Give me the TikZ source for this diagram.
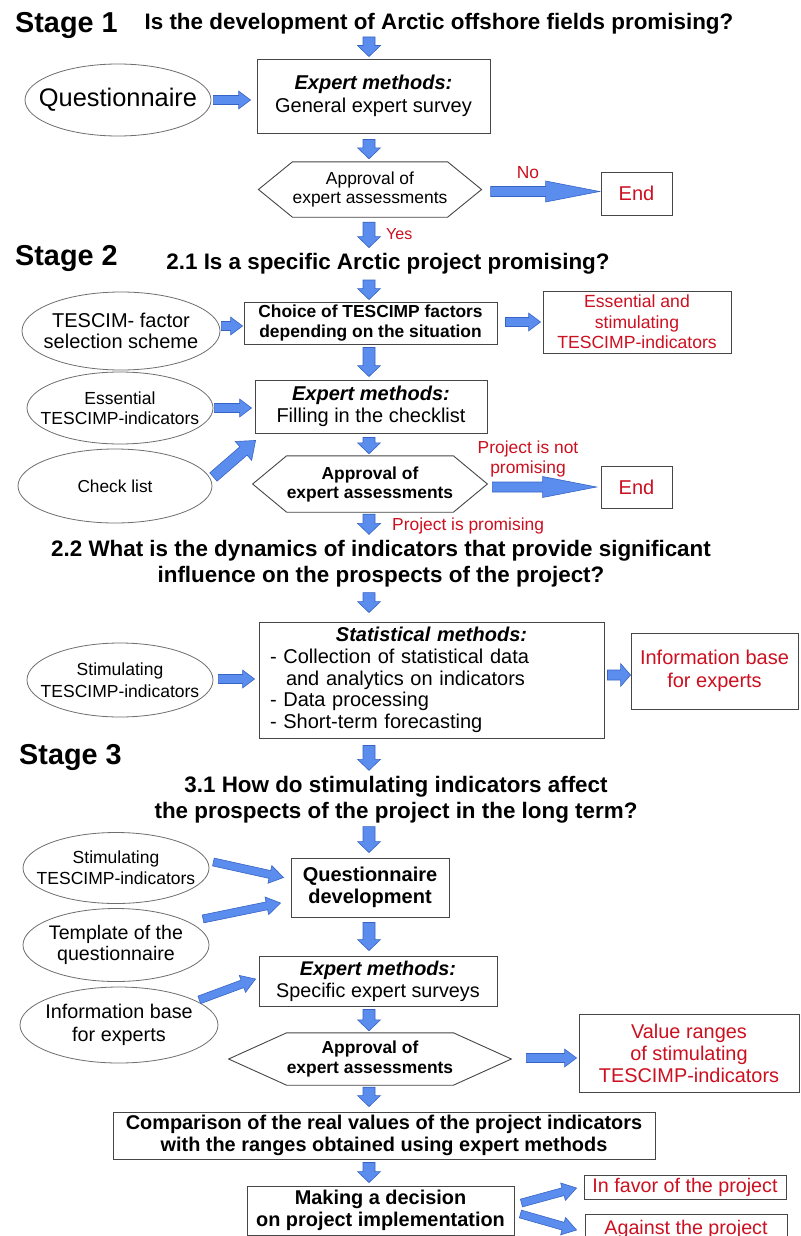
\documentclass[tikz,border=0pt]{standalone}
\usepackage{fontspec}
\setmainfont{Liberation Sans}
\usetikzlibrary{calc,shapes.geometric}

\definecolor{arrowfill}{RGB}{91,141,238}
\definecolor{arrowedge}{RGB}{55,100,196}
\definecolor{alert}{RGB}{204,16,32}
\definecolor{edge}{RGB}{70,70,70}
\definecolor{ovaledge}{RGB}{110,110,110}

\newcommand\fs[2]{\fontsize{#1}{#2}\selectfont}

% block arrow: start, end, shaft half-width, head half-width, head length
\newcommand\blockarrow[5]{%
  \coordinate (ba-s) at #1;
  \coordinate (ba-e) at #2;
  \coordinate (ba-b) at ($(ba-e)!#5!(ba-s)$);
  \filldraw[blockarrow]
    ($(ba-s)!#3!90:(ba-e)$) -- ($(ba-b)!#3!90:(ba-e)$) --
    ($(ba-b)!#4!90:(ba-e)$) -- (ba-e) --
    ($(ba-b)!#4!-90:(ba-e)$) -- ($(ba-b)!#3!-90:(ba-e)$) --
    ($(ba-s)!#3!-90:(ba-e)$) -- cycle;}
\newcommand\arrdown[2]{\blockarrow{#1}{#2}{6pt}{11.5pt}{11pt}}
\newcommand\arrside[2]{\blockarrow{#1}{#2}{4.5pt}{9pt}{12pt}}
\newcommand\arrlong[2]{\blockarrow{#1}{#2}{5pt}{10.5pt}{54pt}}
\newcommand\arrslant[2]{\blockarrow{#1}{#2}{4pt}{9pt}{14pt}}
\newcommand\arrbig[2]{\blockarrow{#1}{#2}{5.5pt}{12.5pt}{16pt}}

% hexagon outline around a rectangular core node
\newcommand\hexframe[2]{\draw[frame] (#1.north west) -- (#1.north east) --
  ($(#1.east)+(#2,0)$) -- (#1.south east) -- (#1.south west) --
  ($(#1.west)+(-#2,0)$) -- cycle;}

\tikzset{
  frame/.style={draw=edge, line width=0.9pt},
  box/.style={frame, align=center, inner sep=0pt, text=black},
  redbox/.style={box, text=alert},
  oval/.style={ellipse, draw=ovaledge, line width=0.8pt, align=center, inner sep=-40pt},
  core/.style={align=center, inner sep=0pt},
  stage/.style={font=\fs{28.8}{30}\bfseries, inner sep=0pt},
  quest/.style={font=\fs{22.4}{26}\bfseries, align=center, inner sep=0pt},
  note/.style={text=alert, font=\fs{17.4}{20}, align=center, inner sep=0pt},
  blockarrow/.style={fill=arrowfill, draw=arrowedge, line width=0.6pt, line join=miter}
}

\begin{document}
\begin{tikzpicture}[x=1pt,y=-1pt]
\useasboundingbox (0,0) rectangle (800,1236);
\clip (0,0) rectangle (800,1236);
\fill[white] (0,0) rectangle (800,1236);
\coordinate (axis) at (369,0);

% ---------- Stage 1
\node[stage, anchor=base west] (st1) at (15,33) {Stage 1};
\node[quest, anchor=base] (q1) at (439,30) {Is the development of Arctic offshore fields promising?};
\node[box, minimum width=233, minimum height=74, font=\fs{20}{23}] (b1) at (373.5,96)
  {\textbf{\textit{Expert methods:}}\\General expert survey};
\node[oval, minimum width=186, minimum height=72, font=\fs{25.4}{28}] (e1) at (118,100) {Questionnaire};
\node[core, minimum width=148, minimum height=55, font=\fs{17.4}{19}] (h1) at (370,189.5)
  {Approval of\\expert assessments};
\hexframe{h1}{34}
\node[redbox, minimum width=71, minimum height=43, font=\fs{20}{23}] (end1) at (636.5,193.5) {End};
\node[note, anchor=base] (no1) at (528,178) {No};
\node[note, font=\fs{16}{18}, anchor=base west] (yes1) at (386,239) {Yes};

\arrdown{($(q1.base -| axis)+(0,7)$)}{($(b1.north -| axis)+(0,-2)$)}
\arrside{($(e1.east)+(2,0)$)}{($(b1.west |- e1.east)+(-6,0)$)}
\arrdown{($(b1.south -| axis)+(0,6)$)}{($(h1.north -| axis)+(0,-3)$)}
\arrlong{($(h1.east)+(43,2)$)}{($(end1.west |- h1.east)+(-1,2)$)}

% ---------- Stage 2.1
\node[stage, anchor=base west] (st2) at (15,265) {Stage 2};
\node[quest, anchor=base] (q21) at (388,269) {2.1 Is a specific Arctic project promising?};
\arrdown{($(h1.south -| axis)+(0,5)$)}{($(q21.north -| axis)+(0,-5)$)}

\node[box, minimum width=253, minimum height=42, font=\fs{17.4}{20}\bfseries] (c) at (370.5,323)
  {Choice of TESCIMP factors\\depending on the situation};
\node[oval, minimum width=198, minimum height=78, font=\fs{20}{21}] (e2) at (121,331)
  {TESCIM- factor\\selection scheme};
\node[redbox, minimum width=188, minimum height=62, font=\fs{17.6}{20.5}] (r1) at (637,322)
  {Essential and\\stimulating\\TESCIMP-indicators};
\arrdown{($(q21.base -| axis)+(0,11)$)}{($(c.north -| axis)+(0,-2)$)}
\arrside{($(e2.east)+(1,-5)$)}{($(c.west |- e2.east)+(-1,-5)$)}
\arrside{($(c.east)+(8,-1)$)}{($(r1.west |- c.east)+(-2,-1)$)}

\node[box, minimum width=232, minimum height=53, font=\fs{20}{22}] (b2) at (371,406.5)
  {\textbf{\textit{Expert methods:}}\\Filling in the checklist};
\node[oval, minimum width=186, minimum height=72, font=\fs{17.5}{20}] (e3) at (120,408)
  {Essential\\TESCIMP-indicators};
\node[oval, minimum width=194, minimum height=74, font=\fs{17.3}{20}] (e4) at (115,486) {Check list};
\arrdown{($(c.south -| axis)+(0,3)$)}{($(b2.north -| axis)+(0,-3)$)}
\arrside{($(e3.east)+(1,0)$)}{($(b2.west |- e3.east)+(-3,0)$)}
\arrbig{($(e4.east)+(1,-9)$)}{($(b2.south west)+(1,7)$)}

\node[core, minimum width=150, minimum height=56, font=\fs{17.4}{19}\bfseries] (h2) at (370,484)
  {Approval of\\expert assessments};
\hexframe{h2}{34}
\node[redbox, minimum width=71, minimum height=42, font=\fs{20}{23}] (end2) at (636.5,487) {End};
\node[note] (np) at (528,458.5) {Project is not\\promising};
\node[note, anchor=base west] (pp) at (392,530) {Project is promising};
\arrdown{($(b2.south -| axis)+(0,4)$)}{($(h2.north -| axis)+(0,-2)$)}
\arrlong{($(h2.east)+(39,3)$)}{($(end2.west |- h2.east)+(-4,3)$)}

% ---------- Stage 2.2
\node[quest] (q22) at (381,564)
  {2.2 What is the dynamics of indicators that provide significant\\influence on the prospects of the project?};
\arrdown{($(h2.south -| axis)+(0,2)$)}{($(q22.north -| axis)+(0,-6)$)}

\node[box, minimum width=345, minimum height=116, text width=323, align=left, font=\fs{20}{21.8}] (stat) at (431.5,680)
  {\leavevmode\hbox to 323pt{\hss\textbf{\textit{Statistical methods:}}\hss}\\
   - Collection of statistical data\\
   \hspace*{16pt}and analytics on indicators\\
   - Data processing\\
   - Short-term forecasting};
\node[oval, minimum width=186, minimum height=74, font=\fs{17.5}{22}] (e5) at (120,680)
  {Stimulating\\TESCIMP-indicators};
\node[redbox, minimum width=167, minimum height=76, font=\fs{20}{23}] (info) at (714.5,671)
  {Information base\\for experts};
\arrdown{($(q22.south -| axis)+(0,5)$)}{($(stat.north -| axis)+(0,-9)$)}
\arrside{($(e5.east)+(5,-1)$)}{($(stat.west |- e5.east)+(-4,-1)$)}
\blockarrow{($(stat.east)+(3,-5)$)}{($(info.west |- stat.east)+(0,-5)$)}{5pt}{11.5pt}{10pt}

% ---------- Stage 3
\node[stage, anchor=base west] (st3) at (19,764) {Stage 3};
\node[quest] (q31) at (396,800)
  {3.1 How do stimulating indicators affect\\the prospects of the project in the long term?};
\arrdown{($(stat.south -| axis)+(0,7)$)}{($(q31.north -| axis)+(0,-6)$)}

\node[box, minimum width=158, minimum height=59, font=\fs{20}{22}\bfseries] (qd) at (370,887.5)
  {Questionnaire\\development};
\node[oval, minimum width=186, minimum height=71, font=\fs{17.5}{21}] (e6) at (116,868)
  {Stimulating\\TESCIMP-indicators};
\node[oval, minimum width=186, minimum height=73, font=\fs{19.6}{21}] (e7) at (116,945)
  {Template of the\\questionnaire};
\arrdown{($(q31.south -| axis)+(0,3)$)}{($(qd.north -| axis)+(0,-5)$)}
\arrslant{($(e6.east)+(4,-6)$)}{($(qd.west)+(-7,-10)$)}
\arrslant{($(e7.north east)+(21,0)$)}{($(qd.west)+(-10,15.5)$)}

\node[box, minimum width=238, minimum height=50, font=\fs{19.8}{22}] (b3) at (378,981)
  {\textbf{\textit{Expert methods:}}\\Specific expert surveys};
\node[oval, minimum width=198, minimum height=76, font=\fs{19.8}{23}] (e8) at (119,1025)
  {Information base\\for experts};
\arrdown{($(qd.south -| axis)+(0,5)$)}{($(b3.north -| axis)+(0,-5)$)}
\arrslant{($(e8.north east)+(10,2)$)}{($(b3.west)+(-3,-2)$)}

\node[core, minimum width=150, minimum height=52, font=\fs{17.4}{20}\bfseries] (h3) at (370,1059)
  {Approval of\\expert assessments};
\hexframe{h3}{58}
\node[redbox, minimum width=220, minimum height=78, font=\fs{19.9}{22}] (val) at (689,1053)
  {Value ranges\\of stimulating\\TESCIMP-indicators};
\arrdown{($(b3.south -| axis)+(0,3)$)}{($(h3.north -| axis)+(0,-2)$)}
\arrside{($(h3.east)+(73,-1)$)}{($(val.west |- h3.east)+(-2,-1)$)}

\node[box, minimum width=542, minimum height=47, font=\fs{19.9}{22}\bfseries] (comp) at (384,1135.5)
  {Comparison of the real values of the project indicators\\with the ranges obtained using expert methods};
\arrdown{($(h3.south -| axis)+(0,2)$)}{($(comp.north -| axis)+(0,-5)$)}

\node[box, minimum width=267, minimum height=49, font=\fs{19.9}{22}\bfseries] (mk) at (380.5,1210.5)
  {Making a decision\\on project implementation};
\node[redbox, minimum width=202, minimum height=24, font=\fs{19.7}{22}] (fav) at (685,1187) {In favor of the project};
\node[redbox, minimum width=202, minimum height=30, font=\fs{19.7}{22}] (ag) at (686,1229) {Against the project};
\arrdown{($(comp.south -| axis)+(0,3)$)}{($(mk.north -| axis)+(0,-3)$)}
\arrslant{($(mk.east)+(7,-7.5)$)}{($(fav.west)+(-7,1)$)}
\arrslant{($(mk.east)+(6,3.5)$)}{($(ag.west)+(-8,1)$)}
\end{tikzpicture}
\end{document}
